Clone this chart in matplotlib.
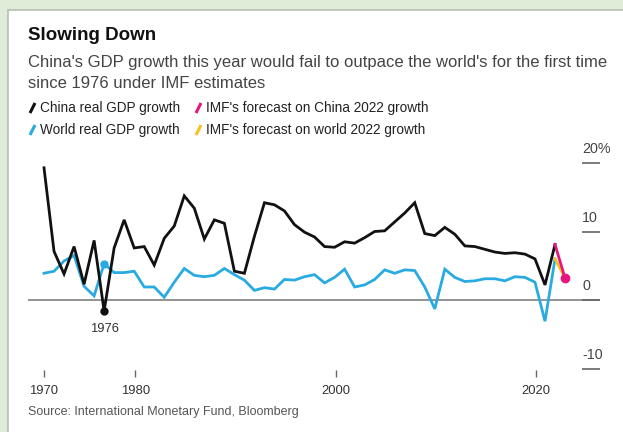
import matplotlib
matplotlib.use("Agg")
import matplotlib.pyplot as plt
from matplotlib.patches import Rectangle
from matplotlib.lines import Line2D
import matplotlib.transforms as mtransforms

plt.rcParams['font.family'] = ['Liberation Sans', 'DejaVu Sans']

years = list(range(1970, 2022))
china_gdp = [19.3, 7.1, 3.8, 7.8, 2.3, 8.7, -1.6, 7.6, 11.7, 7.6,
             7.8, 5.1, 9.0, 10.8, 15.2, 13.4, 8.9, 11.7, 11.2, 4.2,
             3.9, 9.3, 14.2, 13.9, 13.0, 11.0, 9.9, 9.2, 7.8, 7.7,
             8.5, 8.3, 9.1, 10.0, 10.1, 11.4, 12.7, 14.2, 9.7, 9.4,
             10.6, 9.6, 7.9, 7.8, 7.4, 7.0, 6.8, 6.9, 6.7, 6.0,
             2.2, 8.1]
world_gdp = [3.9, 4.2, 5.7, 6.5, 2.0, 0.6, 5.3, 4.0, 4.0, 4.2,
             1.9, 1.9, 0.4, 2.6, 4.6, 3.6, 3.4, 3.6, 4.6, 3.7,
             2.9, 1.4, 1.8, 1.6, 3.0, 2.9, 3.4, 3.7, 2.5, 3.3,
             4.5, 1.9, 2.2, 3.0, 4.4, 3.9, 4.4, 4.3, 1.9, -1.3,
             4.5, 3.3, 2.7, 2.8, 3.1, 3.1, 2.8, 3.4, 3.3, 2.6,
             -3.1, 6.0]
forecast_years = [2021, 2022]
china_forecast = [8.1, 3.2]
world_forecast = [6.0, 3.2]
highlight_year = 1976

xtick_labels = ['1970', '1980', '2000', '2020']
xtick_pos = [1970, 1979.1, 1999.1, 2019.1]
ytick_vals = [20, 10, 0, -10]
ytick_text = ['20%', '10', '0', '-10']

BLACK = '#111111'
BLUE = '#29abe2'
PINK = '#e5177e'
YELLOW = '#f6c21c'

W, H = 623, 432
fig = plt.figure(figsize=(W / 100, H / 100), dpi=100)
fig.patch.set_facecolor('#deecd8')


def px(x, y):
    # pixel position measured from top-left -> figure fraction
    return x / W, 1 - y / H


# white card with a thin grey edge
fig.patches.append(Rectangle(px(8, 440), (W + 10) / W, 430 / H,
                             transform=fig.transFigure, facecolor='white',
                             edgecolor='#b9bdb6', linewidth=1.2, zorder=-5))

fig.text(*px(28, 36), 'Slowing Down', fontsize=13.5, fontweight='bold',
         color='#111111', va='center')
fig.text(*px(28, 62),
         "China's GDP growth this year would fail to outpace the world's for the first time",
         fontsize=12, color='#444444', va='center')
fig.text(*px(28, 84), 'since 1976 under IMF estimates',
         fontsize=12, color='#444444', va='center')

legend_rows = [
    (108, [(30, BLACK, 'China real GDP growth'),
           (196, PINK, "IMF's forecast on China 2022 growth")]),
    (130, [(30, BLUE, 'World real GDP growth'),
           (196, YELLOW, "IMF's forecast on world 2022 growth")]),
]
for y, items in legend_rows:
    for x, col, label in items:
        x0, y0 = px(x, y + 5)
        x1, y1 = px(x + 5, y - 5)
        fig.lines.append(Line2D([x0, x1], [y0, y1], transform=fig.transFigure,
                                color=col, linewidth=2.2, solid_capstyle='butt'))
        fig.text(*px(x + 10, y), label, fontsize=9.8, color='#222222',
                 va='center')

fig.text(*px(28, 412), 'Source: International Monetary Fund, Bloomberg',
         fontsize=9, color='#555555', va='center')

# plot area
left, right, top, bottom = 28, 600, 150, 377
ax = fig.add_axes([left / W, 1 - bottom / H, (right - left) / W, (bottom - top) / H])
ax.set_facecolor('none')
ax.set_xlim(1970 + (left - 44) / 10.02, 1970 + (right - 44) / 10.02)
ax.set_ylim((300 - bottom) / 6.85, (300 - top) / 6.85)
for s in ax.spines.values():
    s.set_visible(False)

ax.axhline(0, color='#8a8a8a', linewidth=1.3, zorder=1)

ax.plot(years, world_gdp, color=BLUE, linewidth=2.0, zorder=3,
        solid_joinstyle='miter')
ax.plot(years, china_gdp, color=BLACK, linewidth=2.0, zorder=4,
        solid_joinstyle='miter')
ax.plot(forecast_years, world_forecast, color=YELLOW, linewidth=2.0, zorder=5)
ax.plot(forecast_years, china_forecast, color=PINK, linewidth=2.0, zorder=6)
ax.plot(forecast_years[-1], china_forecast[-1], 'o', color=PINK,
        markersize=6, zorder=7)

i = years.index(highlight_year)
ax.plot(highlight_year, world_gdp[i], 'o', color=BLUE, markersize=5, zorder=3)
ax.plot(highlight_year, china_gdp[i], 'o', color=BLACK, markersize=5, zorder=5)
ax.annotate(str(highlight_year), (highlight_year, china_gdp[i]),
            xytext=(0, -9), textcoords='offset points', ha='center',
            va='top', fontsize=9.4, color='#333333')

ax.set_xticks(xtick_pos)
ax.set_xticklabels(xtick_labels)
ax.tick_params(axis='x', direction='in', length=5, width=1, color='#666666',
               pad=6, labelsize=9.4, labelcolor='#333333')

ax.yaxis.tick_right()
ax.set_yticks(ytick_vals)
ax.tick_params(axis='y', direction='in', length=13, width=1.2,
               color='#666666', labelright=False)
blend = mtransforms.blended_transform_factory(ax.transAxes, ax.transData)
for v, t in zip(ytick_vals, ytick_text):
    ax.text(0.969, v + 2.0, t, transform=blend, fontsize=10.3,
            color='#444444', va='center', ha='left')

fig.savefig('out.png', dpi=100, facecolor=fig.get_facecolor())
